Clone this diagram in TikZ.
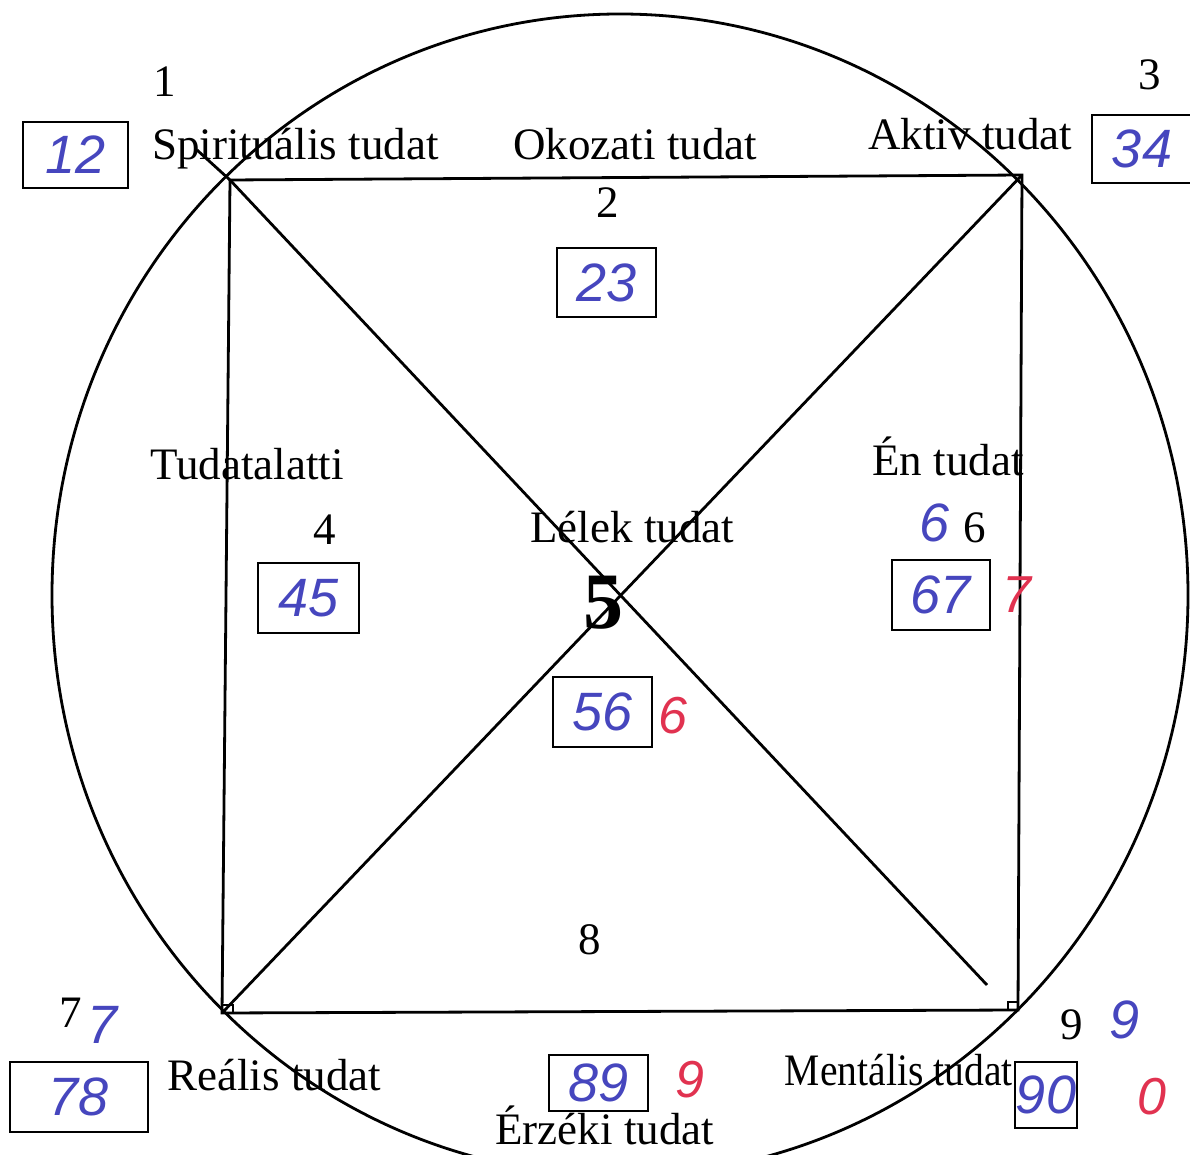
\documentclass[tikz,border=0pt]{standalone}
\usepackage{fontspec}
\setmainfont{Liberation Serif}
\newfontfamily\hand{Liberation Sans}
\definecolor{ink}{RGB}{70,70,190}
\definecolor{redink}{RGB}{225,50,80}
\begin{document}
\begin{tikzpicture}[x=0.5pt,y=-0.5pt,
  lbl/.style={font=\fontsize{22.5}{27}\selectfont, inner sep=0pt},
  num/.style={font=\fontsize{22.5}{27}\selectfont, inner sep=0pt},
  big/.style={font=\bfseries\fontsize{40}{42}\selectfont, inner sep=0pt},
  hb/.style={font=\hand\itshape\fontsize{27}{30}\selectfont, text=ink, inner sep=0pt},
  hr/.style={font=\hand\itshape\fontsize{26}{30}\selectfont, text=redink, inner sep=0pt},
  hbox/.style={hb, draw=black, line width=1.1pt},
  ln/.style={line width=1.4pt}]
\clip (0,0) rectangle (1190,1155);
\fill[white] (0,0) rectangle (1190,1155);
% circle
\draw[ln] (620,595) ellipse [x radius=568, y radius=581];
% corners
\coordinate (TL) at (230,180);
\coordinate (TR) at (1022,175);
\coordinate (BR) at (1018,1010);
\coordinate (BL) at (222,1013);
\coordinate (TLx) at (197,150);
\coordinate (D) at (987,985);
\draw[ln] (TL) -- (TR) -- (BR) -- (BL) -- cycle;
\draw[ln] (TLx) -- (TL) -- (D);
\draw[ln] (BL) -- (TR);
\draw[line width=0.8pt] (BL) rectangle ++(11,-8);
\draw[line width=0.8pt] (BR) rectangle ++(-10,-8);
% printed labels
\node[lbl, anchor=base west] (t1) at (152,160) {Spirituális tudat};
\node[lbl, anchor=base west] (t2) at (513,160) {Okozati tudat};
\node[lbl, anchor=base west] (t3) at (868,150) {Aktiv tudat};
\node[lbl, anchor=base west] (t4) at (150,480) {Tudatalatti};
\node[lbl, anchor=base west] (t6) at (872,475) {Én tudat};
\node[lbl, anchor=base west] (t5) at (530,543) {Lélek tudat};
\node[lbl, anchor=base west] (t7) at (167,1090) {Reális tudat};
\node[lbl, anchor=base east, xscale=0.88] (t9) at (1013,1085) {Mentális tudat};
\node[lbl, anchor=base west] (t8) at (495,1144) {Érzéki tudat};
% printed digits
\node[num] (n1) at (165,82) {1};
\node[num] (n3) at (1150,75) {3};
\node[num] (n2) at (608,203) {2};
\node[num] (n4) at (325,530) {4};
\node[num] (n6) at (975,528) {6};
\node[num] (n8) at (590,940) {8};
\node[num] (n9) at (1072,1025) {9};
\node[num] (n7) at (71,1013) {7};
\node[big] (n5) at (603,603) {5};
% handwritten boxes
\node[hbox, minimum width=52.5pt, minimum height=33pt] (b12) at (75.5,155) {12};
\node[hbox, minimum width=50pt, minimum height=34pt] (b34) at (1142,149) {34};
\node[hbox, minimum width=49.5pt, minimum height=34.5pt] (b23) at (606.5,282.5) {23};
\node[hbox, minimum width=50.5pt, minimum height=35pt] (b45) at (308.5,598) {45};
\node[hbox, minimum width=49.5pt, minimum height=35pt] (b56) at (602.5,712) {56};
\node[hbox, minimum width=49pt, minimum height=35pt] (b67) at (941,595) {67};
\node[hbox, minimum width=69pt, minimum height=35pt] (b78) at (79,1097) {78};
\node[hbox, minimum width=49.5pt, minimum height=28pt] (b89) at (598.5,1083) {89};
\node[hbox, minimum width=31pt, minimum height=33pt] (b90) at (1046,1095) {90};
% loose handwritten digits
\node[hb] (h6) at (935,523) {6};
\node[hb] (h7) at (103,1025) {7};
\node[hb] (h9) at (1125,1020) {9};
\node[hr] (r6) at (673,716) {6};
\node[hr] (r7) at (1017,595) {7};
\node[hr] (r9) at (690,1080) {9};
\node[hr] (r0) at (1152,1097) {0};
\end{tikzpicture}
\end{document}
